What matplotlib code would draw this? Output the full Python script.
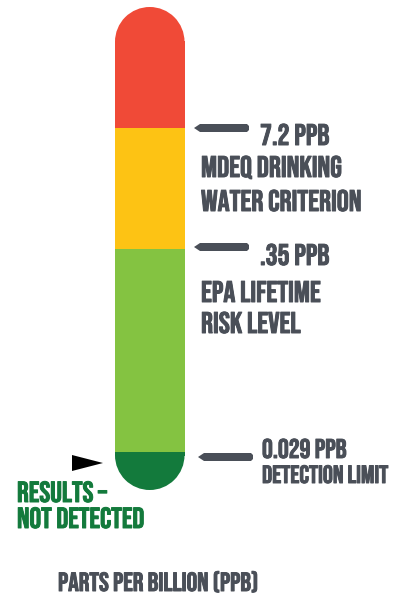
import matplotlib
matplotlib.use("Agg")
import matplotlib.pyplot as plt
from matplotlib.patches import Rectangle, Wedge, Polygon
import matplotlib.patheffects as pe

# ---- data ----
segment_names = ["Above MDEQ criterion", "Between EPA and MDEQ", "Between detection and EPA", "Not detected"]
segment_colors = ["#f04a37", "#fdc314", "#84c341", "#137a3c"]
threshold_values = ["7.2 PPB", ".35 PPB", "0.029 PPB"]
threshold_notes = [["MDEQ DRINKING", "WATER CRITERION"], ["EPA LIFETIME", "RISK LEVEL"], ["DETECTION LIMIT"]]
result_label = ["RESULTS –", "NOT DETECTED"]
axis_label = "PARTS PER BILLION (PPB)"

# ---- layout (pixel coordinates) ----
W, H = 401, 599
fig = plt.figure(figsize=(W / 100, H / 100), dpi=100)
ax = fig.add_axes([0, 0, 1, 1])
ax.set_xlim(0, W)
ax.set_ylim(H, 0)
ax.axis("off")

fam = ["Bebas Neue", "DejaVu Sans"]

x0, x1 = 115, 184.5
r = (x1 - x0) / 2
cx = (x0 + x1) / 2
bounds = [7, 128, 249, 452, 490]  # segment edges on screen

# top segment
ax.add_patch(Rectangle((x0, bounds[0] + r - 1), x1 - x0, bounds[1] - bounds[0] - r + 1, color=segment_colors[0], lw=0))
ax.add_patch(Wedge((cx, bounds[0] + r), r, 180, 360, color=segment_colors[0], lw=0))
# middle segments
for i in (1, 2):
    ax.add_patch(Rectangle((x0, bounds[i]), x1 - x0, bounds[i + 1] - bounds[i], color=segment_colors[i], lw=0))
# bottom segment
ax.add_patch(Rectangle((x0, bounds[3]), x1 - x0, bounds[4] - r - bounds[3] + 1, color=segment_colors[3], lw=0))
ax.add_patch(Wedge((cx, bounds[4] - r), r, 0, 180, color=segment_colors[3], lw=0))

gray = "#4a4f58"
pointer_y = [128, 247, 457]
pointer_x = [(194, 249), (194, 249), (198, 253)]
for (px0, px1), py in zip(pointer_x, pointer_y):
    h = 4
    poly = [(px0, py), (px0 + 6, py - h), (px1 - 2, py - h), (px1, py - h + 2),
            (px1, py + h - 2), (px1 - 2, py + h), (px0 + 6, py + h)]
    ax.add_patch(Polygon(poly, closed=True, color=gray, lw=0))

def label(x, y, s, size, color=gray, stroke=0.7):
    ax.text(x, y, s, fontsize=size, color=color, family=fam, va="baseline", ha="left",
            path_effects=[pe.withStroke(linewidth=stroke, foreground=color)])

big = 21.5
label(260, 145, threshold_values[0], big)
label(201, 177, threshold_notes[0][0], big)
label(201, 211, threshold_notes[0][1], big)
label(260, 265, threshold_values[1], big)
label(201, 302, threshold_notes[1][0], big)
label(201, 333, threshold_notes[1][1], big)
label(262, 458, threshold_values[2], 19.5)
label(262, 483, threshold_notes[2][0], 18)

# result marker
ax.add_patch(Polygon([(72, 455), (72, 471), (103, 463)], closed=True, color="black", lw=0))
label(17, 502, result_label[0], 21, segment_colors[3])
label(17, 528, result_label[1], 21, segment_colors[3])

label(58, 591, axis_label, 19)

fig.savefig("out.png", dpi=100, facecolor="white")
